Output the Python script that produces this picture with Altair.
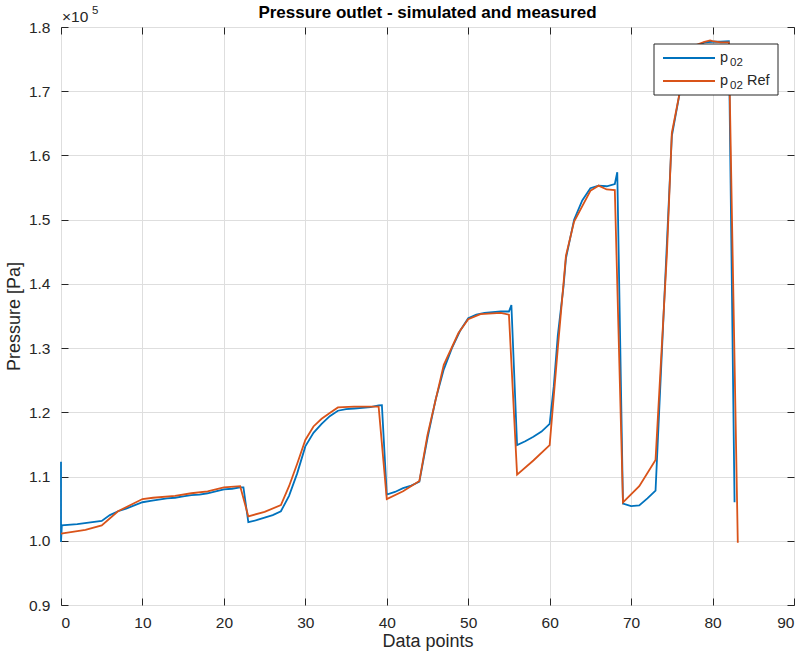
import altair as alt
import pandas as pd

# Simulated outlet pressure p02 [Pa / 1e5]
sim_x = [0, 0, 0.1, 2, 5, 6, 7, 8, 9, 10, 11, 12, 13, 14, 15, 16, 17, 18, 19, 20, 21, 22, 22.4,
         23, 24, 25, 26, 27, 28, 29, 30, 31, 32, 33, 34, 35, 36, 37, 38, 39, 39.4,
         40, 41, 42, 43, 44, 45, 46, 47, 48, 49, 50, 51, 52, 53, 54, 55, 55.3,
         56, 57, 58, 59, 60, 60.5, 61, 61.7, 62, 63, 64, 65, 66, 67, 68, 68.3,
         69, 70, 71, 72, 73, 74, 75, 76, 77, 78, 79, 80, 81, 82, 82.7]
sim_y = [1.123, 0.998, 1.024, 1.026, 1.031, 1.040, 1.046, 1.050, 1.055, 1.060, 1.062, 1.064, 1.066,
         1.067, 1.069, 1.071, 1.072, 1.074, 1.077, 1.080, 1.081, 1.083, 1.083,
         1.029, 1.032, 1.036, 1.040, 1.046, 1.070, 1.105, 1.147, 1.168, 1.182, 1.194, 1.2025,
         1.205, 1.206, 1.207, 1.208, 1.2107, 1.211,
         1.072, 1.076, 1.082, 1.086, 1.092, 1.160, 1.220, 1.267, 1.300, 1.327, 1.3465, 1.352,
         1.355, 1.356, 1.357, 1.357, 1.367,
         1.149, 1.155, 1.162, 1.170, 1.182, 1.24, 1.32, 1.396, 1.44, 1.50, 1.53, 1.549, 1.553,
         1.552, 1.5555, 1.574,
         1.058, 1.054, 1.055, 1.066, 1.078, 1.355, 1.63, 1.70, 1.75, 1.77, 1.776, 1.777, 1.777,
         1.778, 1.06]

# Measured reference p02 Ref [Pa / 1e5]
ref_x = [0, 3, 5, 7, 10, 11.3, 14, 16, 18, 20, 22, 23, 25, 27, 28, 29, 30, 31, 32, 33, 34, 36, 39,
         40, 42, 44, 45, 47, 48.8, 50, 51.5, 54, 55, 56, 58, 60, 61, 62, 63, 65, 66, 67, 68,
         69, 71, 73, 74.4, 75, 76, 77, 78, 79, 79.7, 80, 81, 82, 83.1]
ref_y = [1.011, 1.017, 1.024, 1.046, 1.065, 1.067, 1.070, 1.074, 1.077, 1.083, 1.085, 1.038, 1.045,
         1.0556, 1.085, 1.12, 1.157, 1.178, 1.19, 1.199, 1.2077, 1.209, 1.209,
         1.065, 1.077, 1.093, 1.165, 1.274, 1.3235, 1.345, 1.353, 1.355, 1.352, 1.103, 1.125,
         1.149, 1.30, 1.444, 1.497, 1.545, 1.553, 1.547, 1.546,
         1.0597, 1.085, 1.126, 1.448, 1.635, 1.70, 1.75, 1.772, 1.777, 1.779, 1.778, 1.776,
         1.776, 0.997]

series_names = ["p02", "p02 Ref"]
series_colors = ["#0072BD", "#D95319"]
x_ticks = [0, 10, 20, 30, 40, 50, 60, 70, 80, 90]
y_ticks = [0.9e5, 1.0e5, 1.1e5, 1.2e5, 1.3e5, 1.4e5, 1.5e5, 1.6e5, 1.7e5, 1.8e5]
title_text = "Pressure outlet - simulated and measured"

rows = []
for i, (x, y) in enumerate(zip(sim_x, sim_y)):
    rows.append({"series": series_names[0], "x": x, "p": y * 1e5, "i": i})
for i, (x, y) in enumerate(zip(ref_x, ref_y)):
    rows.append({"series": series_names[1], "x": x, "p": y * 1e5, "i": i})
df = pd.DataFrame(rows)
one = pd.DataFrame({"k": [0]})

FONT = "Liberation Sans"
INK = "#262626"
TICK = 7
W, H = 733, 578
LBL = 15.5
TTL = 18

xscale = alt.Scale(domain=[0, 90], nice=False, zero=False)
yscale = alt.Scale(domain=[0.9e5, 1.8e5], nice=False, zero=False)

lines = alt.Chart(df).mark_line(strokeWidth=1.8).encode(
    x=alt.X("x:Q", scale=xscale, title="Data points",
            axis=alt.Axis(values=x_ticks, grid=True, gridColor="#dedede", gridWidth=1,
                          domain=False, offset=-TICK, tickSize=TICK, tickColor=INK,
                          tickWidth=1, labelPadding=TICK + 3, labelFontSize=LBL,
                          labelColor=INK, labelFont=FONT, titleFont=FONT,
                          titleFontSize=TTL, titleFontWeight="normal", titleColor=INK,
                          titlePadding=2)),
    y=alt.Y("p:Q", scale=yscale, title="Pressure [Pa]",
            axis=alt.Axis(values=y_ticks, grid=True, gridColor="#dedede", gridWidth=1,
                          domain=False, offset=-TICK, tickSize=TICK, tickColor=INK,
                          tickWidth=1, labelPadding=TICK + 4, labelFontSize=LBL,
                          labelColor=INK, labelFont=FONT,
                          labelExpr="format(datum.value / 100000, '.1f')",
                          titleFont=FONT, titleFontSize=TTL, titleFontWeight="normal",
                          titleColor=INK, titlePadding=5)),
    color=alt.Color("series:N", scale=alt.Scale(domain=series_names, range=series_colors),
                    legend=None),
    order="i:Q",
)

mirror = alt.Chart(df).mark_line(opacity=0).encode(
    x=alt.X("x:Q", scale=xscale,
            axis=alt.Axis(values=x_ticks, orient="top", grid=False, domain=False, labels=False,
                          title=None, offset=-TICK, tickSize=TICK, tickColor=INK)),
    y=alt.Y("p:Q", scale=yscale,
            axis=alt.Axis(values=y_ticks, orient="right", grid=False, domain=False,
                          labels=False, title=None, offset=-TICK, tickSize=TICK,
                          tickColor=INK)),
)

def txt(s, x, y, size=14, align="left", weight="normal", color=INK):
    return alt.Chart(one).mark_text(
        text=s, align=align, baseline="alphabetic", font=FONT, fontSize=size,
        fontWeight=weight, color=color
    ).encode(x=alt.value(x), y=alt.value(y))

# title and exponent
title = txt(title_text, W / 2, -9, size=17, align="center", weight="bold", color="black")
exp1 = txt("\u00d710", 1, -5, size=LBL)
exp2 = txt("5", 31, -13, size=11.5)

# legend box
box = alt.Chart(one).mark_rect(fill="white", stroke=INK, strokeWidth=1).encode(
    x=alt.value(593), x2=alt.value(717), y=alt.value(17), y2=alt.value(68))
leg1 = alt.Chart(one).mark_rule(color=series_colors[0], strokeWidth=1.8).encode(
    x=alt.value(602), x2=alt.value(654), y=alt.value(31))
leg2 = alt.Chart(one).mark_rule(color=series_colors[1], strokeWidth=1.8).encode(
    x=alt.value(602), x2=alt.value(654), y=alt.value(54))
l1a = txt("p", 659, 35, size=14.5)
l1b = txt("02", 669, 39, size=11.5)
l2a = txt("p", 659, 58, size=14.5)
l2b = txt("02", 669, 62, size=11.5)
l2c = txt("Ref", 686, 58, size=14.5)

chart = alt.layer(lines, mirror, title, exp1, exp2, box, leg1, leg2,
                  l1a, l1b, l2a, l2b, l2c).resolve_axis(
    x="independent", y="independent"
).properties(
    width=W, height=H,
    autosize=alt.AutoSizeParams(type="none"),
    padding={"left": 61, "top": 27, "right": 10, "bottom": 51},
).configure_view(stroke=INK, strokeWidth=1)

chart.save("out.html", embed_options={"renderer": "svg", "actions": False})
